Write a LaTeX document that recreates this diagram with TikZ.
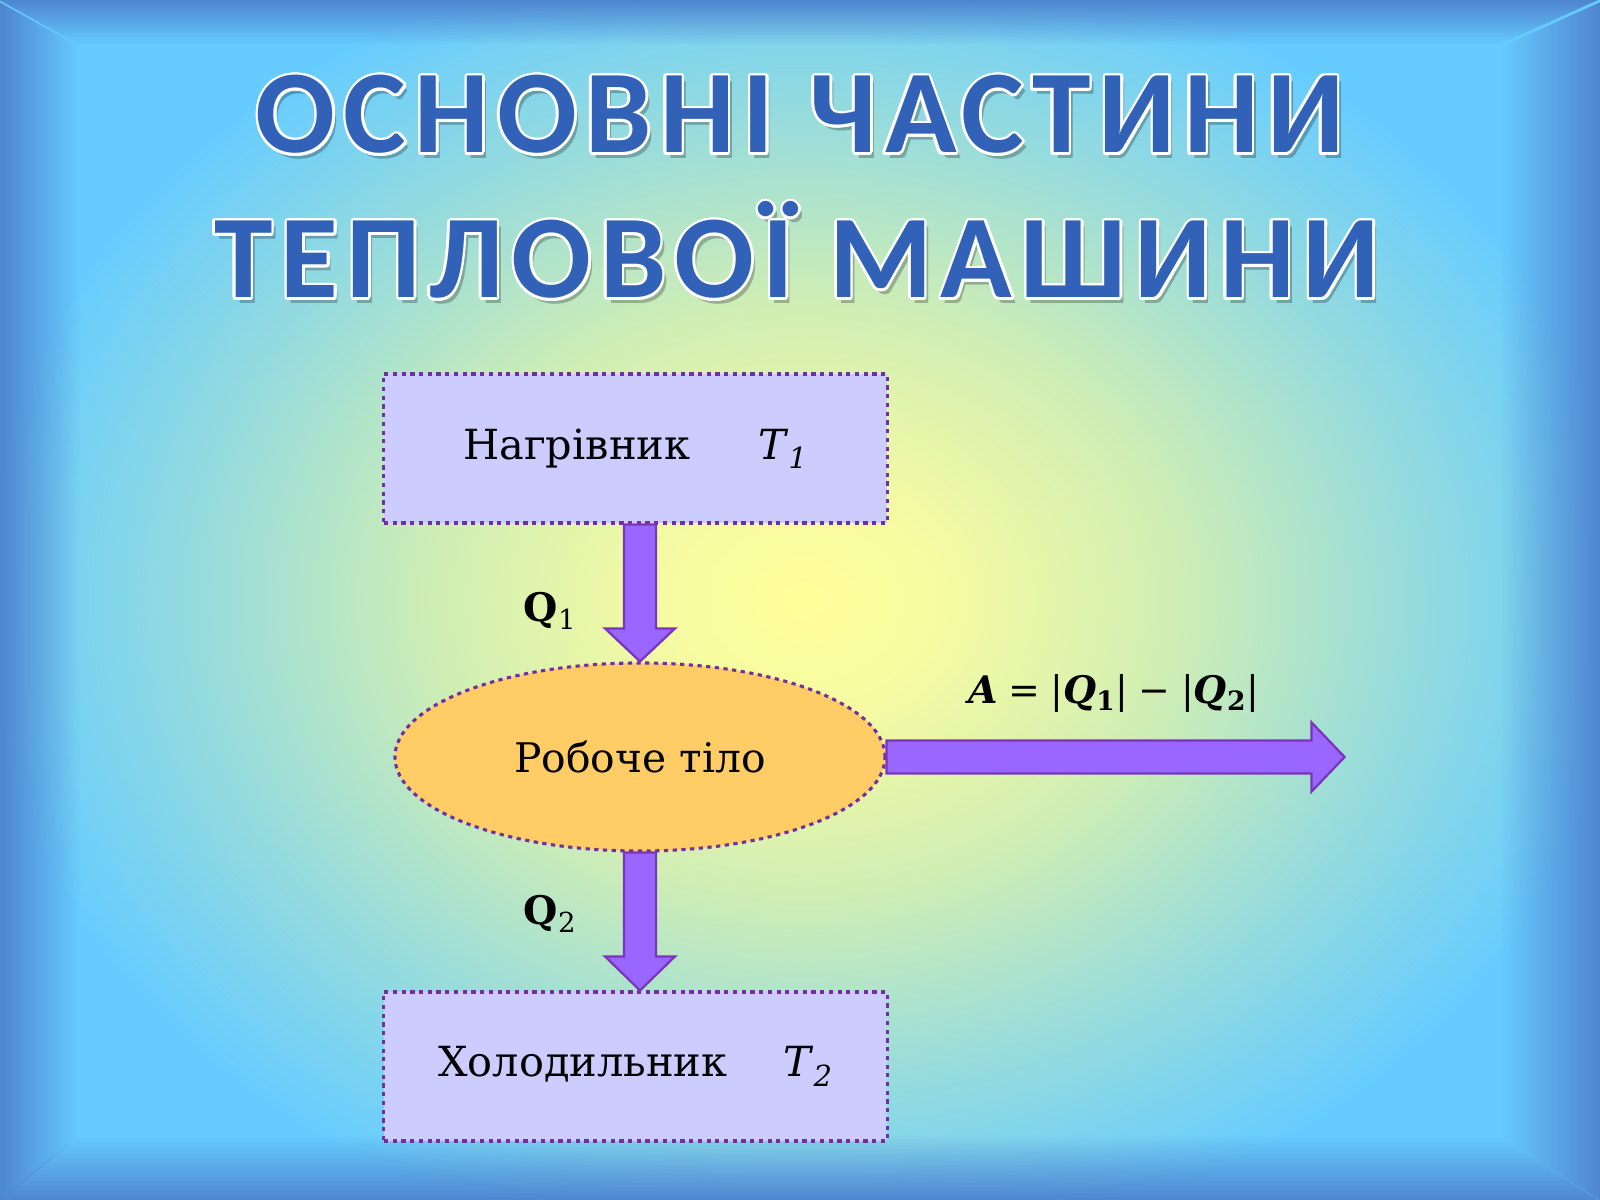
\documentclass[tikz,border=0pt]{standalone}
\usepackage{fontspec}
\setmainfont{DejaVu Serif}
\newfontfamily\titlefont[LetterSpace=7]{Carlito}
\usetikzlibrary{calc,shapes.geometric,fadings}

\definecolor{frameblue}{HTML}{4F86D0}
\definecolor{skyblue}{HTML}{66CCFF}
\definecolor{glowteal}{HTML}{98DCDC}
\definecolor{glowgreen}{HTML}{D0EEB4}
\definecolor{glowyellow}{HTML}{F6FBA2}
\definecolor{glowcore}{HTML}{FFFF99}
\definecolor{titleblue}{HTML}{3162B8}
\definecolor{boxfill}{HTML}{CCCCFF}
\definecolor{bodyfill}{HTML}{FFCC66}
\definecolor{dotline}{HTML}{7030A0}
\definecolor{arrowfill}{HTML}{9966FF}
\definecolor{arrowline}{HTML}{7A35B8}

\pgfdeclareradialshading{glow}{\pgfpoint{0bp}{0bp}}{color(0bp)=(glowcore); color(3bp)=(glowyellow); color(8bp)=(glowgreen); color(13bp)=(glowteal); color(18bp)=(skyblue); color(25bp)=(skyblue); color(50bp)=(skyblue)}
\tikzfading[name=fade right, left color=transparent!0, right color=transparent!100]
\tikzfading[name=fade left, left color=transparent!100, right color=transparent!0]
\tikzfading[name=fade down, top color=transparent!0, bottom color=transparent!100]
\tikzfading[name=fade up, top color=transparent!100, bottom color=transparent!0]

\tikzset{
  titletext/.style={font=\titlefont\bfseries\fontsize{84}{90}\selectfont, text=titleblue, inner sep=0pt, anchor=base},
  dotted border/.style={draw=dotline, line width=2.2pt, dash pattern=on 3pt off 3.2pt},
  partbox/.style={dotted border, fill=boxfill, minimum width=12.575cm, minimum height=3.725cm, inner sep=0pt, font=\fontsize{29.5}{34}\selectfont},
  bodybox/.style={dotted border, ellipse, fill=bodyfill, minimum width=12.25cm, minimum height=4.7cm, inner sep=0pt, font=\fontsize{29}{34}\selectfont},
  qlabel/.style={inner sep=0pt, font=\fontsize{28}{32}\selectfont},
  fatarrow/.style={fill=arrowfill, draw=arrowline, line width=1.6pt, line join=miter}
}

\begin{document}
\begin{tikzpicture}[x=0.025cm, y=-0.025cm]
  \useasboundingbox (0,0) rectangle (1600,1200);
  % background
  \fill[skyblue] (0,0) rectangle (1600,1200);
  \begin{scope}
    \clip (0,0) rectangle (1600,1200);
    \shade[shading=glow] (805,600) ellipse (1150 and 920);
  \end{scope}
  \fill[frameblue, path fading=fade right] (0,0) -- (80,45) -- (80,1135) -- (0,1200) -- cycle;
  \fill[frameblue, path fading=fade left] (1600,0) -- (1500,45) -- (1500,1135) -- (1600,1200) -- cycle;
  \fill[frameblue, path fading=fade down] (0,0) -- (1600,0) -- (1500,45) -- (80,45) -- cycle;
  \fill[frameblue, path fading=fade up] (0,1200) -- (1600,1200) -- (1500,1135) -- (80,1135) -- cycle;

  % title
  \coordinate (title1) at (800,153);
  \coordinate (title2) at (797,298);
  \foreach \pos/\txt in {title1/ОСНОВНІ ЧАСТИНИ, title2/ТЕПЛОВОЇ МАШИНИ} {
    \node[titletext, text=black, opacity=0.25] at ($(\pos)+(4,6)$) {\txt};
    \foreach \a in {0,30,...,330}
      \node[titletext, text=white] at ($(\pos)+(\a:2.6)$) {\txt};
    \node[titletext] at (\pos) {\txt};
  }

  % parts of the engine
  \node[partbox] (heater) at (635.5,448.5) {Нагрівник\hspace{1.7cm}\textit{T}\textsubscript{\textit{1}}};
  \node[bodybox] (body) at (640,757) {Робоче тіло};
  \node[partbox] (cooler) at (635.5,1066.5) {Холодильник\hspace{1.4cm}\textit{T}\textsubscript{\textit{2}}};

  \coordinate (tip1) at (body.north);
  \coordinate (tip2) at (cooler.north -| body.south);
  \coordinate (tip3) at ($(body.east)+(458,0)$);
  \draw[fatarrow] ($(heater.south -| tip1)+(-16,0)$) -- ($(tip1)+(-16,-33)$) -- ($(tip1)+(-35,-33)$) -- (tip1)
    -- ($(tip1)+(35,-33)$) -- ($(tip1)+(16,-33)$) -- ($(heater.south -| tip1)+(16,0)$) -- cycle;
  \draw[fatarrow] ($(body.south)+(-16,0)$) -- ($(tip2)+(-16,-34)$) -- ($(tip2)+(-35,-34)$) -- (tip2)
    -- ($(tip2)+(35,-34)$) -- ($(tip2)+(16,-34)$) -- ($(body.south)+(16,0)$) -- cycle;
  \draw[fatarrow] ($(body.east)+(0,-16.5)$) -- ($(tip3)+(-33,-16.5)$) -- ($(tip3)+(-33,-34.5)$) -- (tip3)
    -- ($(tip3)+(-33,34.5)$) -- ($(tip3)+(-33,16.5)$) -- ($(body.east)+(0,16.5)$) -- cycle;

  \node[qlabel] (q1) at (550,611) {\textbf{Q}\textsubscript{1}};
  \node[qlabel] (q2) at (550,914) {\textbf{Q}\textsubscript{2}};
  \node[inner sep=0pt, font=\fontsize{27}{31}\selectfont] (work) at (1113.5,693)
    {\textbf{\textit{A}}\;=\;|\textbf{\textit{Q}}\textsubscript{\textbf{1}}|\;−\;|\textbf{\textit{Q}}\textsubscript{\textbf{2}}|};
\end{tikzpicture}
\end{document}
